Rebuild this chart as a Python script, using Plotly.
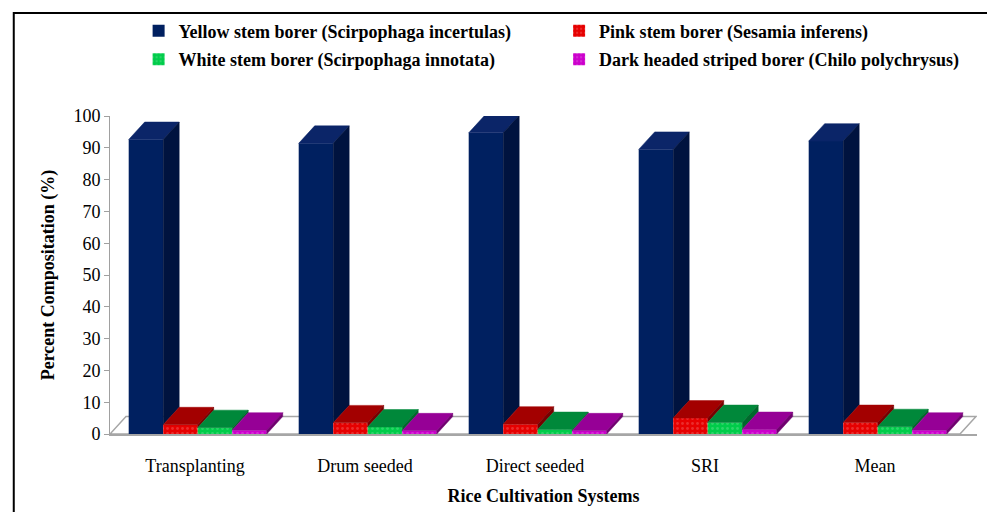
import plotly.graph_objects as go

# ---------------- data ----------------
categories = ["Transplanting", "Drum seeded", "Direct seeded", "SRI", "Mean"]
yellow_stem_borer = [92.6, 91.4, 94.7, 89.5, 92.1]
pink_stem_borer = [2.9, 3.5, 3.1, 5.0, 3.6]
white_stem_borer = [2.0, 2.2, 1.4, 3.6, 2.3]
dark_headed_borer = [1.2, 1.0, 1.0, 1.4, 1.2]
series_names = [
    "Yellow stem borer (Scirpophaga incertulas)",
    "Pink stem borer (Sesamia inferens)",
    "White stem borer (Scirpophaga innotata)",
    "Dark headed striped borer (Chilo polychrysus)",
]
y_ticks = list(range(0, 101, 10))

# ---------------- style ----------------
front_colors = ["#002060", "#E60000", "#00CC4A", "#CC00CC"]
top_colors = ["#0B2568", "#A30000", "#00883A", "#960096"]
side_colors = ["#00133F", "#780000", "#00692C", "#700070"]
patterned = [False, True, True, True]
legend_ids = ["legend", "legend2", "legend", "legend2"]
BAR_W = 0.203
GROUP_START = -0.39
DX, DY = 0.094, 5.5
FONT = "Liberation Serif"

series = [yellow_stem_borer, pink_stem_borer, white_stem_borer, dark_headed_borer]
xs = list(range(len(categories)))

fig = go.Figure()

for k, (name, vals) in enumerate(zip(series_names, series)):
    marker = dict(color=front_colors[k], line=dict(width=0))
    if patterned[k]:
        marker["pattern"] = dict(shape=".", fgcolor="rgba(255,255,255,0.35)",
                                 size=5, solidity=0.25)
    fig.add_trace(go.Bar(
        x=xs, y=vals, name="<b>" + name + "</b>", width=BAR_W,
        offset=GROUP_START + k * BAR_W, marker=marker,
        legend=legend_ids[k], legendgroup=f"g{k}",
        customdata=categories,
        hovertemplate="%{customdata}: %{y}<extra>" + name + "</extra>",
    ))

# 3-D top and side faces computed from the data
for k, vals in enumerate(series):
    nxt = series[k + 1] if k + 1 < len(series) else [0] * len(vals)
    tx, ty, sx, sy = [], [], [], []
    for i, v in enumerate(vals):
        x0 = xs[i] + GROUP_START + k * BAR_W
        x1 = x0 + BAR_W
        tx += [x0, x1, x1 + DX, x0 + DX, x0, None]
        ty += [v, v, v + DY, v + DY, v, None]
        base = min(nxt[i], v)
        sx += [x1, x1 + DX, x1 + DX, x1, x1, None]
        sy += [base, base + DY, v + DY, v, base, None]
    fig.add_trace(go.Scatter(x=tx, y=ty, mode="lines", fill="toself",
                             fillcolor=top_colors[k],
                             line=dict(width=0.5, color=top_colors[k]),
                             showlegend=False, hoverinfo="skip"))
    fig.add_trace(go.Scatter(x=sx, y=sy, mode="lines", fill="toself",
                             fillcolor=side_colors[k],
                             line=dict(width=0.5, color=side_colors[k]),
                             showlegend=False, hoverinfo="skip"))

n = len(categories)
x_lo, x_hi = -0.5, n - 0.5
# floor of the 3-D plot
fig.add_shape(type="path", xref="x", yref="y", layer="below",
              path=f"M {x_lo},0 L {x_hi},0 L {x_hi + DX},{DY} L {x_lo + DX},{DY} Z",
              line=dict(color="#A6A6A6", width=1.5), fillcolor="white")
# outer frame
fig.add_shape(type="rect", xref="paper", yref="paper",
              x0=-0.111, x1=1.015, y0=-0.27, y1=1.324,
              line=dict(color="black", width=2), fillcolor="rgba(0,0,0,0)")

legend_common = dict(orientation="v", yanchor="top", y=1.325, xanchor="left",
                     font=dict(family=FONT, size=18, color="black"),
                     bgcolor="rgba(0,0,0,0)", tracegroupgap=2,
                     itemwidth=30)

fig.update_layout(
    width=987, height=504,
    margin=dict(l=102, r=18, t=108, b=78, autoexpand=False),
    paper_bgcolor="white", plot_bgcolor="white",
    barmode="overlay",
    font=dict(family=FONT, color="black", size=16),
    legend=dict(x=0.033, **legend_common),
    legend2=dict(x=0.518, **legend_common),
    showlegend=True,
    xaxis=dict(
        range=[x_lo, x_hi + 0.1], tickmode="array", tickvals=xs, ticktext=categories,
        showgrid=False, zeroline=False, showline=True, linecolor="#A6A6A6",
        linewidth=2, ticks="", ticklabelstandoff=14, automargin=False,
        tickfont=dict(family=FONT, size=18, color="black"),
        title=dict(text="<b>Rice Cultivation Systems</b>", standoff=15,
                   font=dict(family=FONT, size=18, color="black")),
    ),
    yaxis=dict(
        range=[0, 100], tickmode="array", tickvals=y_ticks,
        showgrid=False, zeroline=False, showline=True, linecolor="#A0A0A0",
        linewidth=1, ticks="outside", ticklen=5, tickcolor="#A0A0A0",
        automargin=False,
        tickfont=dict(family=FONT, size=18, color="black"),
        title=dict(text="<b>Percent Compositation (%)</b>", standoff=14,
                   font=dict(family=FONT, size=18, color="black")),
    ),
)

fig.write_html("out.html")
